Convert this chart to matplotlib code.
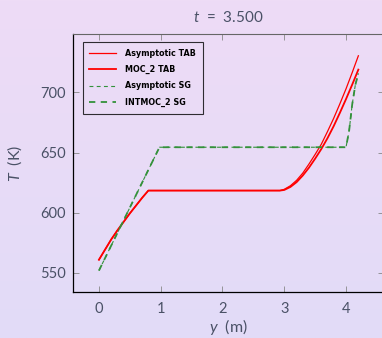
import numpy as np
import matplotlib
matplotlib.use('Agg')
import matplotlib.pyplot as plt

# valores (t = 3.500)
y_tab = [0, 0.1, 0.2, 0.3, 0.4, 0.5, 0.6, 0.7, 0.8, 2.93, 3.0, 3.1, 3.2, 3.3,
         3.4, 3.5, 3.6, 3.7, 3.8, 3.9, 4.0, 4.1, 4.2]
T_asym_tab = [561, 569.5, 578, 585.5, 592.5, 599.5, 606, 612.5, 618.5, 618.5,
              619.5, 622.5, 627, 633, 640.5, 648.5, 657, 667.5, 678.5, 690.5,
              703, 716.5, 730.5]
T_moc2_tab = [561, 569.5, 578, 585.5, 592.5, 599.5, 606, 612.5, 618.5, 618.5,
              619, 621.5, 625.5, 631, 637.5, 645, 653, 662, 672, 683,
              694.5, 706.5, 719]

y_sg = [0, 0.98, 4.0, 4.05, 4.1, 4.15, 4.2]
T_asym_sg = [552, 654.5, 654.5, 668, 690, 706, 716]
T_intmoc2_sg = [552, 654.5, 654.5, 668, 690, 706, 716]

xticks = [0, 1, 2, 3, 4]
yticks = [550, 600, 650, 700]

txt = '#4a5166'
green = '#33913a'
plt.rcParams['font.family'] = ['Lato', 'DejaVu Sans']
plt.rcParams['mathtext.fontset'] = 'custom'
plt.rcParams['mathtext.it'] = 'Lato:italic'
plt.rcParams['mathtext.rm'] = 'Lato'

fig = plt.figure(figsize=(3.82, 3.38), dpi=100)

# fundo com gradiente (rosado em cima, lilas embaixo)
bg = fig.add_axes([0, 0, 1, 1], zorder=-1)
top = np.array([238, 220, 246]) / 255
bot = np.array([226, 219, 248]) / 255
grad = np.linspace(0, 1, 256)[:, None, None] * (bot - top) + top
bg.imshow(np.repeat(grad, 2, axis=1), aspect='auto', extent=[0, 1, 0, 1])
bg.axis('off')

ax = fig.add_axes([73 / 382, 46 / 338, 311.3 / 382, 258 / 338])
ax.set_facecolor('none')

ax.plot(y_tab, T_asym_tab, color='red', lw=0.9, label='Asymptotic TAB')
ax.plot(y_tab, T_moc2_tab, color='red', lw=1.3, label='MOC_2 TAB')
ax.plot(y_sg, T_asym_sg, color=green, lw=0.8, ls=(0, (3.5, 3)), label='Asymptotic SG')
ax.plot(y_sg, T_intmoc2_sg, color=green, lw=1.3, ls=(0, (3.5, 3)), label='INTMOC_2 SG')

ax.set_xlim(-0.42, 4.62)
ax.set_ylim(534.2, 748.6)
ax.set_xticks(xticks)
ax.set_yticks(yticks)

ax.tick_params(direction='in', length=4.5, width=0.6, color='#888888',
               labelcolor=txt, labelsize=10.5, top=True, right=True)
ax.tick_params(axis='x', pad=7)
ax.tick_params(axis='y', pad=5)
for s in ['left', 'bottom']:
    ax.spines[s].set_color('black')
    ax.spines[s].set_linewidth(0.9)
for s in ['top', 'right']:
    ax.spines[s].set_color('#666666')
    ax.spines[s].set_linewidth(0.8)

ax.set_title(r'$t$  =  3.500', color=txt, fontsize=11, pad=9)
ax.set_xlabel(r'$y$  (m)', color=txt, fontsize=11.5, labelpad=1)
ax.set_ylabel(r'$T$  (K)', color=txt, fontsize=11.5, labelpad=12)

leg = ax.legend(loc='upper left', bbox_to_anchor=(0.031, 0.969), borderaxespad=0,
                prop={'family': 'DejaVu Sans', 'weight': 'bold', 'size': 5.8},
                frameon=True, fancybox=False, edgecolor='black',
                handlelength=3.3, handletextpad=1.1, labelspacing=0.9,
                borderpad=0.85)
leg.get_frame().set_facecolor('none')
leg.get_frame().set_linewidth(0.8)

fig.savefig('out.png', dpi=100)
